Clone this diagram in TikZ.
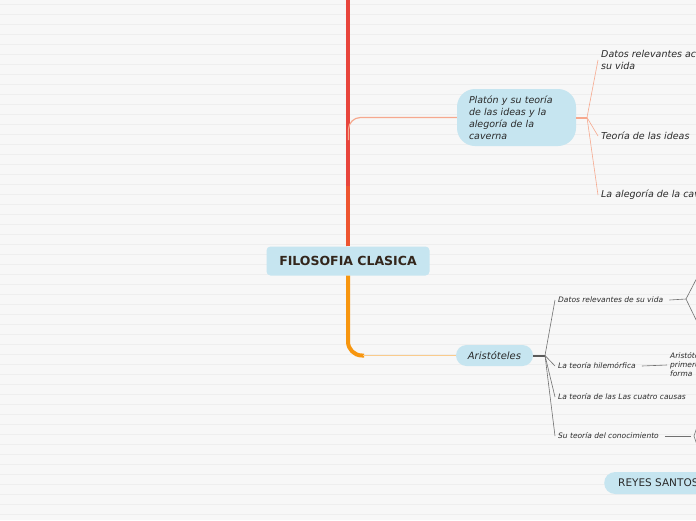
\documentclass[tikz,border=0pt]{standalone}
\usepackage{fontspec}
\setmainfont{DejaVu Sans}
\usetikzlibrary{positioning, calc}
\definecolor{fcBack}{HTML}{F7F7F7}
\definecolor{fcRule}{HTML}{EEEEEE}
\definecolor{fcNode}{HTML}{C6E5F0}
\definecolor{fcText}{HTML}{2A2A2A}
\definecolor{fcBrown}{HTML}{33261C}
\definecolor{fcRed}{HTML}{E8453C}
\definecolor{fcRedOrange}{HTML}{EE5530}
\definecolor{fcOrange}{HTML}{F7960F}
\definecolor{fcSalmon}{HTML}{F6A88E}
\definecolor{fcPeach}{HTML}{F9CB8C}
\definecolor{fcGray}{HTML}{707070}
\tikzset{
  fcroot/.style={rectangle, rounded corners=4pt, fill=fcNode, text=fcBrown,
                 font=\fontsize{12.5}{14}\selectfont\bfseries,
                 minimum width=163pt, minimum height=29pt, inner sep=0pt},
  fctopic/.style={rectangle, fill=fcNode, text=fcText, inner sep=0pt},
  fcleaf/.style={anchor=west, inner sep=3pt, text=fcText, align=left,
                 font=\fontsize{9.5}{12}\selectfont\itshape},
  fcsmall/.style={anchor=west, inner sep=3pt, text=fcText, align=left,
                  font=\fontsize{7.5}{9}\selectfont\itshape},
  fctrunk/.style={line width=4pt},
  fcthin/.style={line width=0.6pt},
}

\begin{document}
\begin{tikzpicture}[x=1pt, y=-1pt]
  \useasboundingbox (0,0) rectangle (696,520);
  \clip (0,0) rectangle (696,520);
  % fondo
  \fill[fcBack] (0,0) rectangle (696,520);
  \foreach \y in {4,14,...,514}
    \draw[fcRule, line width=0.6pt] (0,\y) -- (696,\y);

  % nodos
  \node[fcroot](root) at (348,261){FILOSOFIA CLASICA};
  \node[fctopic, rounded corners=18pt, minimum width=119pt, minimum height=57pt,
        text width=95pt, align=left, font=\fontsize{9.5}{12}\selectfont\itshape]
        (plato) at (516.5,117.5){Platón y su teoría\\de las ideas y la\\alegoría de la\\caverna};
  \node[fctopic, rounded corners=10.5pt, minimum width=77pt, minimum height=21pt,
        font=\fontsize{10}{12}\selectfont\itshape](aris) at (494.5,355.5){Aristóteles};
  \node[fctopic, rounded corners=11pt, anchor=west, inner xsep=14pt, minimum height=22pt,
        font=\fontsize{10.5}{12}\selectfont](reyes) at (604,483){REYES SANTOS};

  \node[fcleaf](p1) at (598,60){Datos relevantes acerca de\\su vida};
  \node[fcleaf](p2) at (598,136){Teoría de las ideas};
  \node[fcleaf](p3) at (598,195){La alegoría de la caverna};

  \node[fcsmall](a1) at (555,300){Datos relevantes de su vida};
  \node[fcsmall](a2) at (555,366){La teoría hilemórfica};
  \node[fcsmall](a3) at (555,397){La teoría de las Las cuatro causas};
  \node[fcsmall](a4) at (555,436){Su teoría del conocimiento};
  \node[fcsmall, font=\fontsize{7.5}{9}\selectfont\itshape](a2x) at (667,365){Aristóteles\\primero\\forma};

  \coordinate (trunktop) at (348,-5);
  \coordinate (pfork) at (587,117.5);
  \coordinate (afork) at (545,355.5);
  \coordinate (d1fork) at (686,299);
  \coordinate (d4fork) at (694,436);

  % tronco
  \draw[fctrunk, fcRed] (root.north) -- (trunktop);
  \draw[fctrunk, fcRedOrange] (root.north) -- ++(0,-60);
  \draw[fctrunk, fcOrange, rounded corners=14pt] (root.south) |- (364,355.5);
  \draw[line width=1.4pt, fcPeach] (363,355.5) -- (aris.west);
  \draw[line width=1.2pt, fcSalmon, rounded corners=12pt] (348.5,140) |- (plato.west);

  % Platon
  \draw[line width=2pt, fcSalmon] (plato.east) -- (pfork);
  \draw[fcthin, fcSalmon] (pfork) -- (p1.west);
  \draw[fcthin, fcSalmon] (pfork) -- (p2.west);
  \draw[fcthin, fcSalmon] (pfork) -- (p3.west);

  % Aristoteles
  \draw[line width=2pt, fcGray!80!black] (aris.east) -- (afork);
  \foreach \k in {a1,a2,a3,a4}
    \draw[fcthin, fcGray] (afork) -- (\k.west);
  \draw[fcthin, fcGray] (a1.east) ++(3,0) -- (d1fork);
  \draw[fcthin, fcGray] (d1fork) -- (700,272);
  \draw[fcthin, fcGray] (d1fork) -- (700,328);
  \draw[fcthin, fcGray] (a2.east) ++(3,0) -- (a2x.west);
  \draw[fcthin, fcGray] (a4.east) ++(3,0) -- (691,436);
  \draw[fcthin, fcGray] (d4fork) -- (700,418);
  \draw[fcthin, fcGray] (d4fork) -- (700,454);
\end{tikzpicture}
\end{document}
